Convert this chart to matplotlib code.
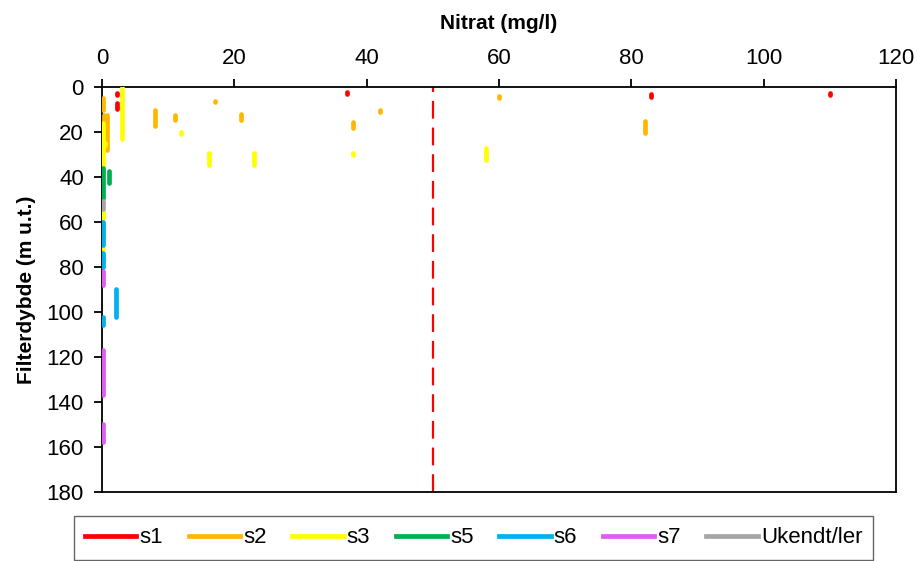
import matplotlib.pyplot as plt
from matplotlib.lines import Line2D

plt.rcParams['font.family'] = ['Liberation Sans', 'DejaVu Sans']

# Filter intervals per group: nitrate (mg/l), top depth and bottom depth (m u.t.)
s1_no3 = [2.3, 2.2, 37.1, 83.0, 110.0]
s1_top = [2.8, 7.0, 2.4, 3.2, 2.7]
s1_bot = [3.7, 9.9, 3.0, 4.6, 3.6]

s2_no3 = [0.1, 0.3, 0.8, 8.0, 11.0, 17.1, 21.0, 38.0, 42.0, 60.0, 82.0]
s2_top = [5.0, 12.5, 12.3, 10.3, 12.6, 6.0, 12.2, 15.5, 10.3, 3.8, 15.2]
s2_bot = [10.0, 15.5, 28.0, 17.5, 14.5, 6.8, 14.8, 18.2, 11.0, 4.8, 20.4]

s3_no3 = [3.0, 0.2, 0.5, 12.0, 16.1, 23.0, 38.0, 58.0, 0.2, 0.2]
s3_top = [0.0, 16.0, 25.0, 20.0, 29.2, 29.2, 29.2, 27.0, 55.5, 71.5]
s3_bot = [23.0, 35.0, 25.6, 20.7, 34.5, 34.5, 30.4, 32.6, 58.3, 72.2]

s5_no3 = [0.2, 1.1]
s5_top = [36.2, 37.2]
s5_bot = [49.2, 42.8]

s6_no3 = [0.2, 0.2, 2.1, 0.2]
s6_top = [60.0, 73.7, 89.8, 102.0]
s6_bot = [70.0, 80.2, 102.0, 105.7]

s7_no3 = [0.2, 0.2, 0.2]
s7_top = [81.8, 116.8, 149.8]
s7_bot = [88.0, 136.8, 158.0]

ukendt_no3 = [0.2]
ukendt_top = [50.8]
ukendt_bot = [54.0]

groups = [
    ('s1', '#FF0000', s1_no3, s1_top, s1_bot),
    ('s2', '#FFB800', s2_no3, s2_top, s2_bot),
    ('s3', '#FFFF00', s3_no3, s3_top, s3_bot),
    ('s5', '#00B050', s5_no3, s5_top, s5_bot),
    ('s6', '#00B0F0', s6_no3, s6_top, s6_bot),
    ('s7', '#DD5CF2', s7_no3, s7_top, s7_bot),
    ('Ukendt/ler', '#A6A6A6', ukendt_no3, ukendt_top, ukendt_bot),
]

limit_no3 = 50

fig = plt.figure(figsize=(9.2, 5.61), dpi=100)
ax = fig.add_axes([0.1109, 0.123, 0.863, 0.7219])

for name, color, no3, top, bot in groups:
    for x, t, b in zip(no3, top, bot):
        ax.plot([x, x], [t, b], color=color, lw=3.4, solid_capstyle='round', zorder=3)

ax.axvline(limit_no3, color='#FF0000', lw=1.6, linestyle=(0, (8, 4)), zorder=2)

ax.set_xlim(0, 120)
ax.set_ylim(180, 0)
ax.set_xticks(range(0, 121, 20))
ax.set_yticks(range(0, 181, 20))
ax.xaxis.tick_top()
ax.xaxis.set_label_position('top')
ax.tick_params(axis='both', labelsize=16, length=6, width=1.3, direction='out')
ax.tick_params(axis='x', pad=7)
ax.tick_params(axis='y', pad=7)
for sp in ax.spines.values():
    sp.set_linewidth(1.3)
ax.set_xlabel('Nitrat (mg/l)', fontsize=15, fontweight='bold', labelpad=14)
ax.set_ylabel('Filterdybde (m u.t.)', fontsize=15, fontweight='bold', labelpad=8)

handles = [Line2D([0], [0], color=c, lw=3.4) for _, c, *_ in groups]
labels = [g[0] for g in groups]
leg = fig.legend(handles, labels, loc='center', bbox_to_anchor=(0.515, 0.041), ncol=7,
                 fontsize=16, frameon=True, fancybox=False, handlelength=2.3,
                 handletextpad=0.15, columnspacing=1.15, borderpad=0.5)
leg.get_frame().set_edgecolor('#404040')
leg.get_frame().set_linewidth(1.0)

fig.savefig('out.png', dpi=100)
